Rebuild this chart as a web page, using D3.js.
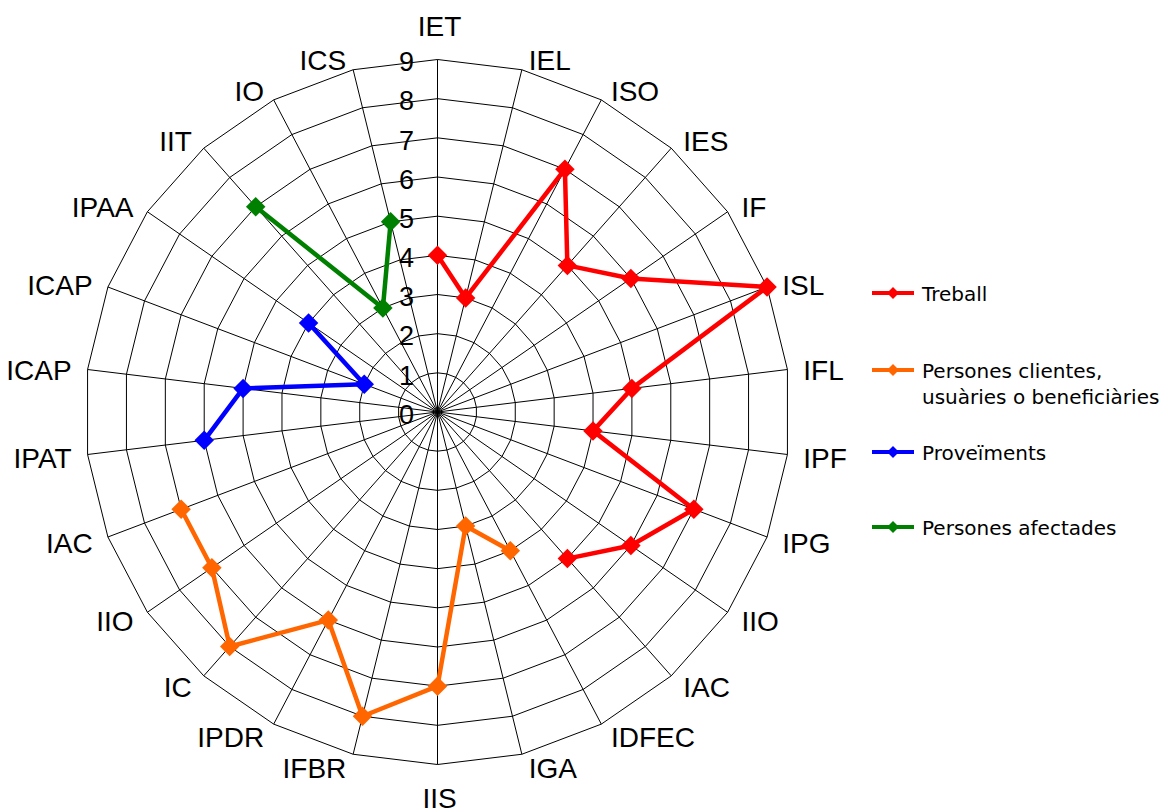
<!DOCTYPE html>
<html>
<head>
<meta charset="utf-8">
<script src="https://cdn.jsdelivr.net/npm/d3@7/dist/d3.min.js"></script>
<style>
  html, body { margin: 0; padding: 0; background: #ffffff; }
  svg { display: block; }
</style>
</head>
<body>
<svg id="chart" width="1164" height="809"></svg>
<script>
// Indicator codes around the radar, clockwise from the top
const categories = ["IET", "IEL", "ISO", "IES", "IF", "ISL", "IFL", "IPF", "IPG", "IIO", "IAC",
  "IDFEC", "IGA", "IIS", "IFBR", "IPDR", "IC", "IIO", "IAC", "IPAT", "ICAP", "ICAP",
  "IPAA", "IIT", "IO", "ICS"];

// Scores per stakeholder group (null = indicator not part of that group)
const treball = [4, 3, 7, 5, 6, 9, 5, 4, 7, 6, 5, null, null, null, null, null, null, null, null, null, null, null, null, null, null, null];
const persones = [null, null, null, null, null, null, null, null, null, null, null, 4, 3, 7, 8, 6, 8, 7, 7, null, null, null, null, null, null, null];
const proveiments = [null, null, null, null, null, null, null, null, null, null, null, null, null, null, null, null, null, null, null, 6, 5, 2, 4, null, null, null];
const afectades = [null, null, null, null, null, null, null, null, null, null, null, null, null, null, null, null, null, null, null, null, null, null, null, 7, 3, 5];

const seriesNames = ["Treball", "Persones clientes,\nusuàries o beneficiàries", "Proveïments", "Persones afectades"];
const seriesColors = ["#ff0000", "#ff6600", "#0000ff", "#008000"];
const tickValues = [0, 1, 2, 3, 4, 5, 6, 7, 8, 9];

const seriesData = [treball, persones, proveiments, afectades];

const svg = d3.select("#chart");
const cx = 437.5, cy = 412, R = 352.5;
const n = categories.length;

const r = d3.scaleLinear().domain([0, 9]).range([0, R]);
const angle = d3.scaleLinear().domain([0, n]).range([0, 2 * Math.PI]);

const g = svg.append("g").attr("transform", `translate(${cx},${cy})`);

// Grid rings (polygons)
const ring = d3.lineRadial()
  .angle((d, i) => angle(i))
  .radius(d => r(d))
  .curve(d3.curveLinearClosed);

g.append("g").selectAll("path")
  .data(tickValues.filter(v => v > 0))
  .join("path")
  .attr("d", v => ring(d3.range(n).map(() => v)))
  .attr("fill", "none")
  .attr("stroke", "#000")
  .attr("stroke-width", 1);

// Spokes
g.append("g").selectAll("line")
  .data(d3.range(n))
  .join("line")
  .attr("x1", 0).attr("y1", 0)
  .attr("x2", i => r(9) * Math.sin(angle(i)))
  .attr("y2", i => -r(9) * Math.cos(angle(i)))
  .attr("stroke", "#000")
  .attr("stroke-width", 1);

// Value labels along the top spoke
g.append("g").selectAll("text")
  .data(tickValues)
  .join("text")
  .attr("x", 414 - cx)
  .attr("y", v => -r(v) + 2)
  .attr("dy", "0.36em")
  .attr("text-anchor", "end")
  .attr("font-family", "'Liberation Sans', Arial, sans-serif")
  .attr("font-size", 27)
  .attr("fill", "#000")
  .text(v => v);

// Category labels: beside the outer vertex, or above/below it on the vertical axis
const catG = g.append("g");
categories.forEach((c, i) => {
  const a = angle(i);
  const sx = Math.sin(a), cs = Math.cos(a);
  const vx = r(9) * sx, vy = -r(9) * cs;
  const t = catG.append("text")
    .attr("dy", "0.36em")
    .attr("font-family", "'Liberation Sans', Arial, sans-serif")
    .attr("font-size", 28)
    .attr("fill", "#000")
    .text(c);
  if (Math.abs(sx) < 1e-6) {
    t.attr("text-anchor", "middle")
      .attr("x", vx + 2)
      .attr("y", cs > 0 ? vy - 34 : vy + 33);
  } else {
    const gap = 4 + 12 * Math.abs(sx);
    t.attr("text-anchor", sx > 0 ? "start" : "end")
      .attr("x", vx + Math.sign(sx) * gap)
      .attr("y", vy - cs * 12 + 2);
  }
});

// Series lines and markers
const diamond = d3.symbol().type(d3.symbolSquare).size(190);
seriesData.forEach((vals, s) => {
  const pts = vals.map((v, i) => ({ v, i }));
  const line = d3.lineRadial()
    .defined(d => d.v != null)
    .angle(d => angle(d.i))
    .radius(d => r(d.v));
  g.append("path")
    .attr("d", line(pts))
    .attr("fill", "none")
    .attr("stroke", seriesColors[s])
    .attr("stroke-width", 4.5)
    .attr("stroke-linejoin", "round");
  g.append("g").selectAll("path")
    .data(pts.filter(d => d.v != null))
    .join("path")
    .attr("d", diamond)
    .attr("transform", d => `translate(${r(d.v) * Math.sin(angle(d.i))},${-r(d.v) * Math.cos(angle(d.i))}) rotate(45)`)
    .attr("fill", seriesColors[s]);
});

// Legend
const legendY = [293, 370, 452, 527];
const legend = svg.append("g");
const legendDiamond = d3.symbol().type(d3.symbolSquare).size(72);
seriesNames.forEach((name, s) => {
  const y = legendY[s];
  legend.append("line")
    .attr("x1", 872).attr("x2", 914)
    .attr("y1", y).attr("y2", y)
    .attr("stroke", seriesColors[s])
    .attr("stroke-width", 4);
  legend.append("path")
    .attr("d", legendDiamond)
    .attr("transform", `translate(893,${y}) rotate(45)`)
    .attr("fill", seriesColors[s]);
  const t = legend.append("text")
    .attr("x", 922)
    .attr("y", y + 8)
    .attr("font-family", "'DejaVu Sans', Verdana, sans-serif")
    .attr("font-size", 20)
    .attr("fill", "#000");
  name.split("\n").forEach((ln, k) => {
    t.append("tspan").attr("x", 922).attr("dy", k === 0 ? 0 : 26).text(ln);
  });
});
</script>
</body>
</html>
